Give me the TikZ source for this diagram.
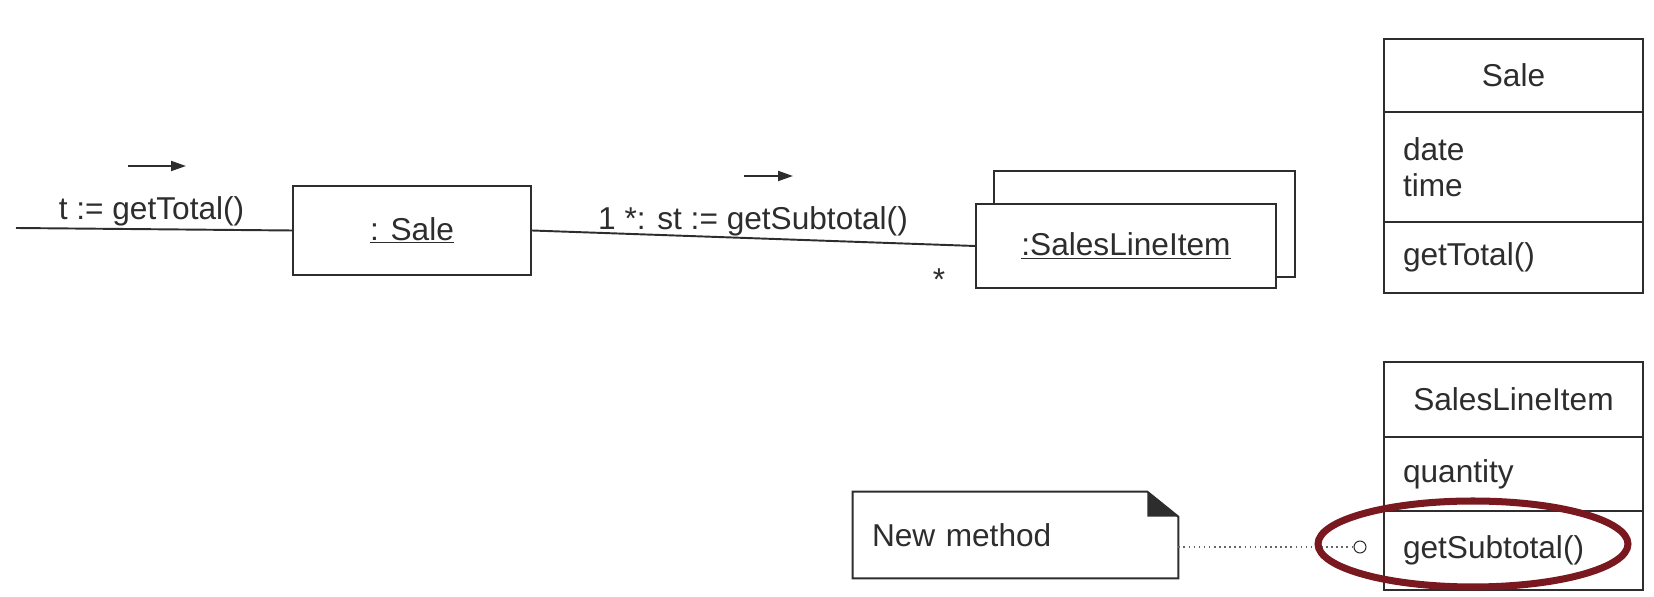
\documentclass[tikz,border=0pt]{standalone}
\usepackage{fontspec}
\setmainfont{Liberation Sans}
\usepackage{xcolor}
\usetikzlibrary{shapes.geometric, arrows.meta, positioning, calc}

\definecolor{inkgray}{RGB}{45,45,45}
\definecolor{markred}{RGB}{122,24,32}

\begin{document}
\begin{tikzpicture}[
    x=0.02cm, y=-0.02cm,
    font=\fontsize{18}{20.5}\selectfont,
    every node/.style={text=inkgray},
    objbox/.style={rectangle, draw=inkgray, line width=1.1pt, fill=white,
                minimum width=4.76cm, minimum height=1.78cm},
    cls/.style={rectangle, draw=inkgray, line width=1.1pt,
                text width=4.42cm, inner xsep=0.38cm, inner ysep=0pt,
                outer sep=0pt, align=center, anchor=north west},
    attr/.style={align=left},
    notebox/.style={rectangle, minimum width=6.5cm, minimum height=1.72cm,
                text width=5.74cm, inner xsep=0.38cm, align=left},
    port/.style={circle, draw=inkgray, line width=0.6pt, fill=white,
                minimum size=0.24cm, inner sep=0pt},
    msgarrow/.style={-{Triangle[length=0.3cm, width=0.2cm]}, line width=1.1pt, draw=inkgray},
    link/.style={line width=1.1pt, draw=inkgray}
]
\useasboundingbox (0,0) rectangle (1654,597);

% collaboration diagram
\coordinate (caller) at (16,228);
\node[objbox] (sale) at (412,230.5) {\underline{: Sale}};
\node[objbox, minimum width=6.02cm, minimum height=2.12cm] (sliBack) at (1144.5,224) {};
\node[objbox, minimum width=6.0cm, minimum height=1.68cm] (sliFront) at (1126,246) {\underline{:SalesLineItem}};

\draw[link] (caller) -- (sale.west);
\draw[link] (sale.east) -- (sliFront.west);

\node[anchor=base] (msgTotal) at (151.5,220) {t := getTotal()};
\node[anchor=base] (msgSub) at (753,230) {1 *: st := getSubtotal()};
\node (mult) at (939,280) {*};

\coordinate (totS) at (128,166);
\coordinate (totE) at (186,166);
\coordinate (subS) at (744,176);
\coordinate (subE) at (793,176);
\draw[msgarrow] (totS) -- (totE);
\draw[msgarrow] (subS) -- (subE);

% class Sale
\node[cls, minimum height=1.46cm] (saleName) at (1384,39) {Sale};
\node[cls, attr, minimum height=2.2cm] (saleAttr) at (saleName.south west) {date\\time};
\node[cls, attr, minimum height=1.42cm] (saleOps) at (saleAttr.south west) {getTotal()};

% class SalesLineItem
\node[cls, minimum height=1.5cm] (sliName) at (1384,362) {SalesLineItem};
\node[cls, attr, minimum height=1.48cm] (sliAttr) at (sliName.south west) {quantity};
\node[cls, attr, minimum height=1.58cm] (sliOps) at (sliAttr.south west) {getSubtotal()};

% note
\node[notebox] (note) at (1015.5,535) {New method};
\draw[link] (note.south west) -- (note.north west) -- ($(note.north east)+(-31,0)$)
    -- ($(note.north east)+(0,25)$) -- (note.south east) -- cycle;
\fill[inkgray] ($(note.north east)+(-31,0)$) -- ($(note.north east)+(-31,25)$)
    -- ($(note.north east)+(0,25)$) -- cycle;

\node[port] (hook) at (1360,547) {};
\draw[dotted, line width=0.9pt, black!60] (hook -| note.east) -- (hook);

\node[ellipse, draw=markred, line width=4pt, minimum width=6.2cm,
      minimum height=1.72cm] (mark) at (1473,544) {};

\end{tikzpicture}
\end{document}
